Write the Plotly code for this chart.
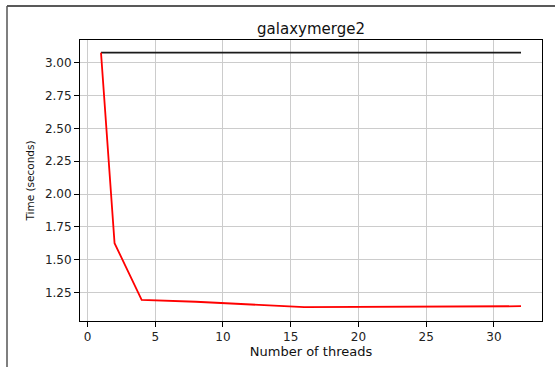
import plotly.graph_objects as go

threads = [1, 2, 4, 8, 16, 32]
parallel_time = [3.076, 1.626, 1.194, 1.180, 1.139, 1.146]
serial_threads = [1, 32]
serial_time = [3.076, 3.076]

x_ticks = [0, 5, 10, 15, 20, 25, 30]
y_ticks = [1.25, 1.50, 1.75, 2.00, 2.25, 2.50, 2.75, 3.00]

font = "DejaVu Sans"

fig = go.Figure()
fig.add_trace(go.Scatter(x=serial_threads, y=serial_time, mode="lines",
                         line=dict(color="#1a1a1a", width=1.8), showlegend=False))
fig.add_trace(go.Scatter(x=threads, y=parallel_time, mode="lines",
                         line=dict(color="red", width=1.8), showlegend=False))

L, R, T, B = 80, 14, 40, 46
W, H = 556, 367
pw, ph = W - L - R, H - T - B

def px(x):
    return (x - L) / pw

def py(y):
    return (H - B - y) / ph

fig.add_shape(type="line", xref="paper", yref="paper", x0=px(7), x1=px(555), y0=py(6), y1=py(6),
              line=dict(color="#222", width=1.5))
fig.add_shape(type="line", xref="paper", yref="paper", x0=px(7), x1=px(7), y0=py(6), y1=py(367),
              line=dict(color="#555", width=1.5))

axis_common = dict(showline=True, linecolor="black", linewidth=1, mirror=True,
                   ticks="outside", ticklen=5, tickcolor="black",
                   showgrid=True, gridcolor="#cccccc", gridwidth=1, zeroline=False,
                   tickfont=dict(family=font, size=12, color="#222"))

fig.update_layout(
    width=W, height=H,
    margin=dict(l=L, r=R, t=T, b=B),
    paper_bgcolor="white", plot_bgcolor="white",
    title=dict(text="galaxymerge2", x=(L + pw / 2) / W, xanchor="center",
               y=1 - 29 / H, yanchor="middle",
               font=dict(family=font, size=15, color="#111")),
    xaxis=dict(range=[-0.55, 33.55], tickvals=x_ticks,
               title=dict(text="Number of threads", standoff=2,
                          font=dict(family=font, size=13, color="#111")),
               **axis_common),
    yaxis=dict(range=[1.0335, 3.1725], tickvals=y_ticks, tickformat=".2f",
               title=dict(text="Time (seconds)", standoff=8,
                          font=dict(family=font, size=10.5, color="#111")),
               **axis_common),
)

fig.write_html("out.html", config={"displayModeBar": False},
               post_script="document.body.style.margin='0';document.body.style.overflow='hidden';")
